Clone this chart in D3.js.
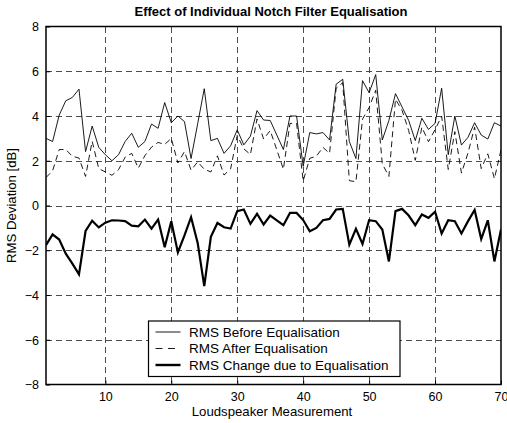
<!DOCTYPE html>
<html>
<head>
<meta charset="utf-8">
<script src="https://cdn.jsdelivr.net/npm/d3@7"></script>
<style>
  html, body { margin: 0; padding: 0; background: #fff; }
  svg { display: block; font-family: "Liberation Sans", Arial, sans-serif; }
</style>
</head>
<body>
<svg id="chart" width="507" height="423"></svg>
<script>
// ---- data ----
const measurements = d3.range(1, 71);
const rmsBefore = [
  3.0, 2.86, 4.04, 4.68, 4.83, 5.2, 2.41, 3.55, 2.6, 2.27,
  2.0, 2.27, 2.86, 3.23, 2.6, 2.86, 3.64, 3.45, 4.6, 3.7,
  4.0, 3.75, 2.1, 3.65, 5.22, 2.9, 3.0, 2.33, 2.67, 3.38,
  2.71, 3.1, 4.24, 3.82, 3.8, 3.15, 2.5, 4.0, 4.0, 1.75,
  3.26, 3.2, 3.26, 2.93, 5.42, 5.64, 2.86, 2.1, 5.58, 5.04,
  5.85, 2.93, 3.8, 5.0, 4.4, 3.8, 2.9, 3.9, 3.4, 3.67,
  5.24, 2.27, 4.0, 2.7, 3.05, 3.7, 3.15, 2.97, 3.7, 3.55
];
const rmsAfter = [
  1.25, 1.55, 2.5, 2.5, 2.2, 2.12, 1.3, 2.87, 1.65, 1.5,
  1.35, 1.6, 2.16, 2.33, 1.67, 2.23, 2.61, 2.82, 2.73, 3.0,
  1.9, 2.41, 1.58, 1.95, 1.62, 1.5, 2.22, 1.36, 1.64, 3.13,
  2.53, 2.28, 3.87, 2.97, 3.35, 2.49, 1.62, 3.67, 3.67, 1.1,
  2.11, 2.2, 2.6, 2.33, 5.24, 5.49, 1.11, 1.06, 3.86, 4.38,
  5.15, 1.86, 1.3, 4.75, 4.25, 3.35, 2.02, 3.5, 2.85, 3.39,
  3.99, 1.61, 3.3, 1.45, 2.35, 3.5, 1.65, 2.31, 1.2, 2.48
];
const rmsChange = [
  -1.77, -1.29, -1.52, -2.15, -2.6, -3.08, -1.14, -0.68, -0.98, -0.77,
  -0.66, -0.67, -0.7, -0.9, -0.93, -0.63, -1.03, -0.63, -1.87, -0.7,
  -2.1, -1.34, -0.52, -1.67, -3.6, -1.4, -0.78, -0.97, -1.03, -0.25,
  -0.18, -0.82, -0.37, -0.85, -0.45, -0.66, -0.88, -0.33, -0.33, -0.65,
  -1.15, -1.0, -0.66, -0.6, -0.18, -0.15, -1.75, -1.04, -1.72, -0.66,
  -0.7, -1.07, -2.5, -0.25, -0.15, -0.45, -0.88, -0.4, -0.55, -0.28,
  -1.25, -0.66, -0.7, -1.25, -0.7, -0.2, -1.5, -0.66, -2.5, -1.07
];
const xTicks = [10, 20, 30, 40, 50, 60, 70];
const yTicks = [-8, -6, -4, -2, 0, 2, 4, 6, 8];
const seriesNames = ["RMS Before Equalisation", "RMS After Equalisation", "RMS Change due to Equalisation"];
const titleText = "Effect of Individual Notch Filter Equalisation";
const xLabel = "Loudspeaker Measurement";
const yLabel = "RMS Deviation [dB]";

// ---- layout ----
const L = 46, R = 501, T = 26.5, B = 384.5;
const svg = d3.select("#chart");
const x = d3.scaleLinear().domain([1, 70]).range([L, R]);
const y = d3.scaleLinear().domain([-8, 8]).range([B, T]);

svg.append("rect").attr("width", 507).attr("height", 423).attr("fill", "#fff");

// grid
const grid = svg.append("g").attr("stroke", "#3a3a3a").attr("stroke-width", 0.9)
  .attr("stroke-dasharray", "6,4").attr("shape-rendering", "crispEdges");
grid.selectAll("line.gx").data(xTicks.filter(d => d < 70)).join("line")
  .attr("x1", d => Math.round(x(d)) + 0.5).attr("x2", d => Math.round(x(d)) + 0.5)
  .attr("y1", T).attr("y2", B);
grid.selectAll("line.gy").data(yTicks.filter(d => d > -8 && d < 8)).join("line")
  .attr("y1", d => Math.round(y(d)) + 0.5).attr("y2", d => Math.round(y(d)) + 0.5)
  .attr("x1", L).attr("x2", R);

// axes (ticks inward)
const xAxis = d3.axisBottom(x).tickValues(xTicks).tickSizeInner(-4).tickSizeOuter(0).tickPadding(8);
const yAxis = d3.axisLeft(y).tickValues(yTicks).tickSizeInner(-4).tickSizeOuter(0).tickPadding(7);
const gx = svg.append("g").attr("transform", `translate(0,${B})`).call(xAxis);
const gy = svg.append("g").attr("transform", `translate(${L},0)`).call(yAxis);
[gx, gy].forEach(g => {
  g.select(".domain").remove();
  g.selectAll("text").attr("font-size", 12.5).attr("fill", "#000")
    .attr("font-family", "Liberation Sans, Arial, sans-serif");
  g.selectAll("line").attr("stroke", "#000");
});
gy.selectAll("text").attr("dy", "0.35em");

// clip for data
svg.append("clipPath").attr("id", "clip").append("rect")
  .attr("x", L).attr("y", T).attr("width", R - L).attr("height", B - T);

const line = d3.line().x((d, i) => x(measurements[i])).y(d => y(d));
const dataG = svg.append("g").attr("clip-path", "url(#clip)");
dataG.append("path").datum(rmsAfter).attr("d", line).attr("fill", "none")
  .attr("stroke", "#000").attr("stroke-width", 0.9).attr("stroke-dasharray", "6,4");
dataG.append("path").datum(rmsBefore).attr("d", line).attr("fill", "none")
  .attr("stroke", "#000").attr("stroke-width", 0.9);
dataG.append("path").datum(rmsChange).attr("d", line).attr("fill", "none")
  .attr("stroke", "#000").attr("stroke-width", 2.2).attr("stroke-linejoin", "miter");

// frame
svg.append("rect").attr("x", L).attr("y", T).attr("width", R - L).attr("height", B - T)
  .attr("fill", "none").attr("stroke", "#000").attr("stroke-width", 1.5);

// legend
const lg = svg.append("g").attr("transform", "translate(148.5,321)");
lg.append("rect").attr("width", 251.5).attr("height", 55.5).attr("fill", "#fff")
  .attr("stroke", "#000").attr("stroke-width", 1.2);
const styles = [
  { w: 0.9, dash: null },
  { w: 0.9, dash: "7,5.5" },
  { w: 2.4, dash: null }
];
seriesNames.forEach((name, i) => {
  const cy = 11 + i * 16.5;
  lg.append("line").attr("x1", 7).attr("x2", 32).attr("y1", cy).attr("y2", cy)
    .attr("stroke", "#000").attr("stroke-width", styles[i].w)
    .attr("stroke-dasharray", styles[i].dash);
  lg.append("text").attr("x", 40.5).attr("y", cy).attr("dy", "0.36em")
    .attr("font-size", 13.5).text(name);
});

// title and labels
svg.append("text").attr("x", 271).attr("y", 16).attr("text-anchor", "middle")
  .attr("font-size", 13).attr("font-weight", "bold").text(titleText);
svg.append("text").attr("x", 272).attr("y", 416).attr("text-anchor", "middle")
  .attr("font-size", 13.2).text(xLabel);
svg.append("text").attr("transform", `translate(16,${(T + B) / 2}) rotate(-90)`)
  .attr("text-anchor", "middle").attr("font-size", 13.2).text(yLabel);
</script>
</body>
</html>
